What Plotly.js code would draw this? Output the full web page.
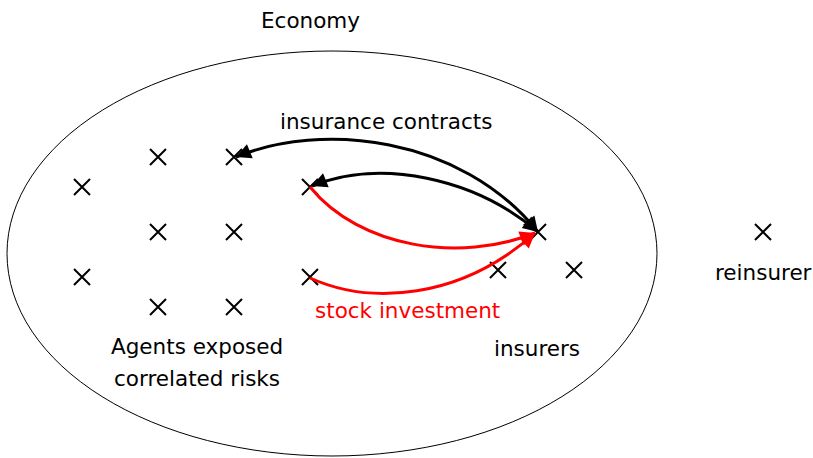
<!DOCTYPE html>
<html><head><meta charset="utf-8">
<script src="https://cdn.plot.ly/plotly-3.0.1.min.js"></script>
<style>html,body{margin:0;padding:0;background:#fff}#chart{width:813px;height:458px}</style>
</head><body><div id="chart"></div>
<script>
// Agents (exposed to correlated risks)
const agentX = [82, 158, 234, 310, 158, 234, 82, 158, 234, 310];
const agentY = [187, 157, 157, 187, 232, 232, 277, 307, 307, 277];
// Insurers
const insurerX = [538, 498, 574];
const insurerY = [232, 270, 270];
// Reinsurer
const reinsurerX = [763];
const reinsurerY = [232];
// Economy ellipse bounds
const economyBox = [7, 51, 657, 456];
// Flows: [start, control1, control2, end]
const contract1 = [[538, 232], [460, 135], [320, 122], [236, 157]];
const contract2 = [[538, 232], [475, 178], [380, 158], [312, 186]];
const stock1 = [[310, 187], [360, 248], [460, 263], [535, 233]];
const stock2 = [[310, 278], [370, 305], [460, 300], [535, 233]];
// Labels
const labels = [
  {t: 'Economy', x: 310, y: 20, c: '#000'},
  {t: 'insurance contracts', x: 386, y: 121, c: '#000'},
  {t: 'stock investment', x: 407, y: 310, c: '#ff0000'},
  {t: 'Agents exposed', x: 197, y: 346, c: '#000'},
  {t: 'correlated risks', x: 197, y: 378, c: '#000'},
  {t: 'insurers', x: 537, y: 348, c: '#000'},
  {t: 'reinsurer', x: 763, y: 272, c: '#000'}
];

const FONT = 'DejaVu Sans';
const mk = {symbol: 'x-thin', size: 16, color: '#000', line: {width: 2, color: '#000'}};
const traces = [
  {x: agentX, y: agentY, mode: 'markers', type: 'scatter', marker: mk, hoverinfo: 'skip'},
  {x: insurerX, y: insurerY, mode: 'markers', type: 'scatter', marker: mk, hoverinfo: 'skip'},
  {x: reinsurerX, y: reinsurerY, mode: 'markers', type: 'scatter', marker: mk, hoverinfo: 'skip'}
];

function pathOf(c) {
  return 'M' + c[0][0] + ',' + c[0][1] + ' C' + c[1][0] + ',' + c[1][1] + ' ' + c[2][0] + ',' + c[2][1] + ' ' + c[3][0] + ',' + c[3][1];
}
function head(tip, from, color) {
  const dx = tip[0] - from[0], dy = tip[1] - from[1];
  const L = Math.sqrt(dx * dx + dy * dy);
  const len = 10;
  return {x: tip[0], y: tip[1], ax: tip[0] - dx / L * len, ay: tip[1] - dy / L * len,
    xref: 'x', yref: 'y', axref: 'x', ayref: 'y', text: '', showarrow: true,
    arrowhead: 2, arrowsize: 1, arrowwidth: 3, arrowcolor: color};
}

const shapes = [
  {type: 'circle', xref: 'x', yref: 'y', x0: economyBox[0], y0: economyBox[1], x1: economyBox[2], y1: economyBox[3],
   line: {color: '#000', width: 1}},
  {type: 'path', xref: 'x', yref: 'y', path: pathOf(contract1), line: {color: '#000', width: 3}},
  {type: 'path', xref: 'x', yref: 'y', path: pathOf(contract2), line: {color: '#000', width: 3}},
  {type: 'path', xref: 'x', yref: 'y', path: pathOf(stock1), line: {color: '#ff0000', width: 3}},
  {type: 'path', xref: 'x', yref: 'y', path: pathOf(stock2), line: {color: '#ff0000', width: 3}}
];

const annotations = labels.map(l => ({x: l.x, y: l.y, xref: 'x', yref: 'y', text: l.t, showarrow: false,
  xanchor: 'center', yanchor: 'middle', font: {family: FONT, size: 21.5, color: l.c}}));
annotations.push(head(contract1[3], contract1[2], '#000'));
annotations.push(head(contract1[0], contract1[1], '#000'));
annotations.push(head(contract2[3], contract2[2], '#000'));
annotations.push(head(contract2[0], contract2[1], '#000'));
annotations.push(head(stock1[3], stock1[2], '#ff0000'));
annotations.push(head(stock2[3], stock2[2], '#ff0000'));

const layout = {
  width: 813, height: 458,
  margin: {l: 0, r: 0, t: 0, b: 0},
  paper_bgcolor: '#fff', plot_bgcolor: '#fff',
  showlegend: false,
  xaxis: {range: [0, 813], visible: false, fixedrange: true},
  yaxis: {range: [458, 0], visible: false, fixedrange: true},
  shapes: shapes,
  annotations: annotations
};
Plotly.newPlot('chart', traces, layout, {displayModeBar: false, staticPlot: true});
</script></body></html>
